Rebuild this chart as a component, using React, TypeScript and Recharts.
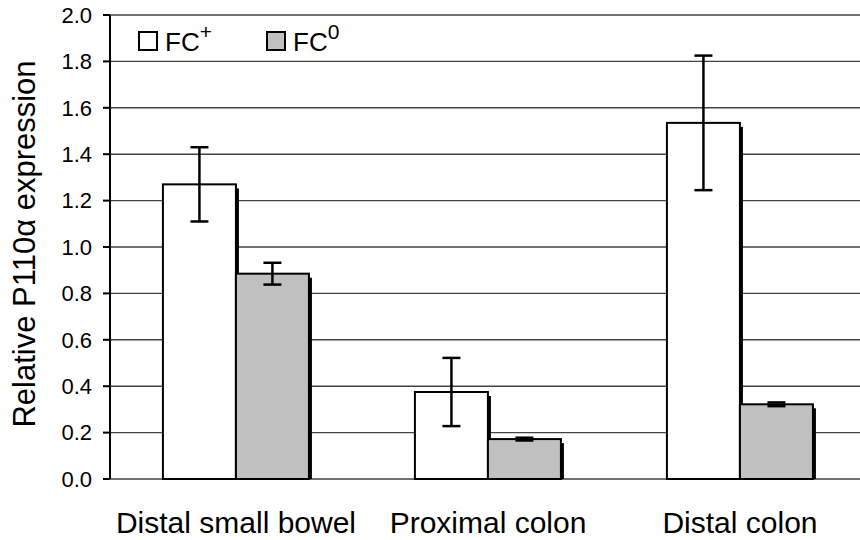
import { BarChart, Bar, XAxis, YAxis, CartesianGrid, ErrorBar, Legend, Label } from "recharts";

const categories = ["Distal small bowel", "Proximal colon", "Distal colon"];
const fcPlus = [1.27, 0.375, 1.535];
const fcPlusErr = [0.16, 0.147, 0.29];
const fcZero = [0.885, 0.172, 0.322];
const fcZeroErr = [0.047, 0.006, 0.008];
const yTicks = [0, 0.2, 0.4, 0.6, 0.8, 1.0, 1.2, 1.4, 1.6, 1.8, 2.0];
const edgeTicks = [0, 1, 2, 3];

const data = categories.map((name, i) => ({
  name,
  plus: fcPlus[i],
  plusErr: fcPlusErr[i],
  zero: fcZero[i],
  zeroErr: fcZeroErr[i],
}));

const font = "'Liberation Sans', Arial, sans-serif";

const ShadowBar = (p: any) => {
  const { x, y, width, height, fill } = p;
  return (
    <g>
      <rect x={x + 3} y={y + 4} width={width} height={Math.max(height - 4, 0)} fill="#000" />
      <rect x={x} y={y} width={width} height={height} fill={fill} stroke="#000" strokeWidth={2} />
    </g>
  );
};

// legend drawn as svg so the superscripts sit right
const LegendBox = () => (
  <svg width={240} height={44} style={{ fontFamily: font, display: "block", overflow: "visible" }}>
    <rect x={3} y={16} width={18} height={18} fill="#fff" stroke="#000" strokeWidth={2} />
    <text x={29} y={35} fontSize={26} fill="#000">
      FC<tspan fontSize={21} dy={-12}>+</tspan>
    </text>
    <rect x={131} y={16} width={18} height={18} fill="#c0c0c0" stroke="#000" strokeWidth={2} />
    <text x={157} y={35} fontSize={26} fill="#000">
      FC<tspan fontSize={21} dy={-12}>0</tspan>
    </text>
  </svg>
);

export default function App() {
  return (
    <div style={{ position: "fixed", left: 0, top: 0, width: 860, height: 540, overflow: "hidden", background: "#fff", fontFamily: font }}>
      <BarChart
        width={866}
        height={540}
        data={data}
        margin={{ top: 15, right: 0, left: 0, bottom: 0 }}
        barCategoryGap="21%"
        barGap={0}
      >
        <CartesianGrid xAxisId="cat" vertical={false} stroke="#444" strokeWidth={1.4} />
        <XAxis
          xAxisId="edge"
          type="number"
          domain={[0, 3]}
          ticks={edgeTicks}
          height={0}
          tick={false}
          tickSize={9}
          axisLine={{ stroke: "#000", strokeWidth: 2 }}
          tickLine={{ stroke: "#000", strokeWidth: 2 }}
        />
        <XAxis
          xAxisId="cat"
          dataKey="name"
          height={61}
          axisLine={false}
          tickLine={false}
          tickSize={0}
          tickMargin={33}
          interval={0}
          tick={{ fontSize: 30, fill: "#000", fontFamily: font }}
        />
        <YAxis
          domain={[0, 2]}
          ticks={yTicks}
          width={110}
          tickSize={7}
          tickMargin={11}
          tickFormatter={(v: number) => v.toFixed(1)}
          axisLine={{ stroke: "#000", strokeWidth: 2 }}
          tickLine={{ stroke: "#000", strokeWidth: 2 }}
          tick={{ fontSize: 22, fill: "#000", fontFamily: font }}
        >
          <Label
            content={() => (
              <text
                transform="translate(35,244) rotate(-90)"
                textAnchor="middle"
                fontSize={31}
                fill="#000"
                fontFamily={font}
              >
                Relative P110α expression
              </text>
            )}
          />
        </YAxis>
        <Legend
          layout="horizontal"
          verticalAlign="middle"
          align="center"
          content={() => <LegendBox />}
          wrapperStyle={{ position: "absolute", top: 16, left: 136, width: 240, height: 44 }}
        />
        <Bar xAxisId="cat" dataKey="plus" fill="#ffffff" shape={ShadowBar} isAnimationActive={false}>
          <ErrorBar dataKey="plusErr" width={9} strokeWidth={2.5} stroke="#000" direction="y" />
        </Bar>
        <Bar xAxisId="cat" dataKey="zero" fill="#c0c0c0" shape={ShadowBar} isAnimationActive={false}>
          <ErrorBar dataKey="zeroErr" width={9} strokeWidth={2.5} stroke="#000" direction="y" />
        </Bar>
      </BarChart>
    </div>
  );
}
